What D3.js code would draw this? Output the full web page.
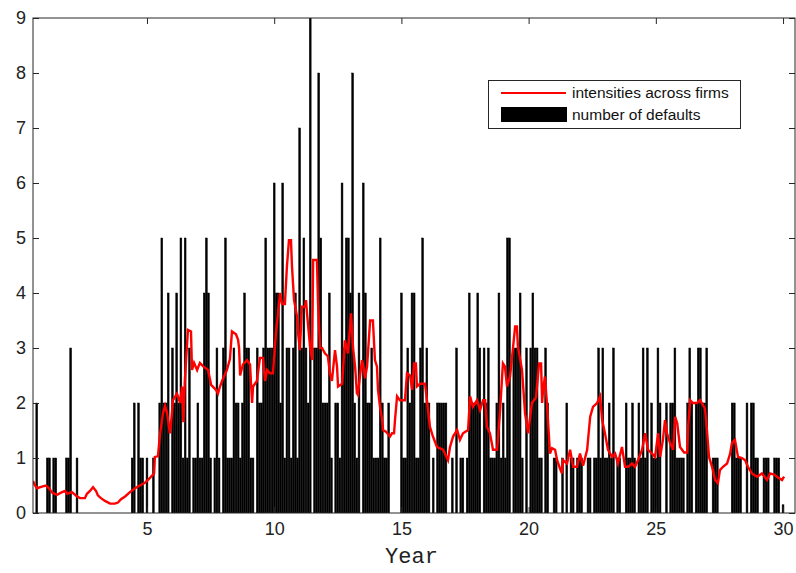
<!DOCTYPE html>
<html>
<head>
<meta charset="utf-8">
<script src="https://cdn.jsdelivr.net/npm/d3@7"></script>
<style>
  body { margin: 0; background: #fff; }
  svg { display: block; }
</style>
</head>
<body>
<div id="chart"></div>
<script>
const width = 796;
const height = 573;

// monthly default counts: [month index, number of defaults]
const defaults = [
  [8,2],[13,1],[14,1],[16,1],[17,1],[22,1],[23,1],[24,3],[27,1],
  [53,1],[54,2],[56,2],[57,1],[58,1],[60,1],[63,1],
  [66,2],[67,5],[68,2],[69,2],[70,4],[72,3],[73,2],[74,4],[75,2],[76,5],
  [77,1],[78,5],[79,1],[80,3],[82,1],[83,1],[84,2],[85,1],[86,1],[87,4],
  [88,5],[89,4],[90,1],[92,1],[93,3],[94,1],[96,3],[97,5],[98,1],[99,1],
  [100,1],[101,3],[102,2],[103,2],[104,1],[105,2],[106,4],[107,3],[108,3],[109,1],
  [110,1],[112,3],[113,2],[114,2],[115,3],[116,5],[117,3],[118,3],[119,3],[120,6],
  [121,4],[122,4],[123,2],[124,6],[125,1],[126,3],[127,3],[128,1],[129,3],[130,4],
  [131,1],[132,7],[133,3],[134,5],[135,3],[136,2],[137,9],[139,3],[140,3],[141,8],
  [142,5],[143,2],[144,2],[145,2],[146,4],[147,1],[149,2],[150,2],[151,1],[152,6],
  [153,3],[154,5],[155,5],[156,4],[157,8],[158,2],[159,1],[160,4],[162,6],[163,4],
  [164,2],[165,2],[166,3],[167,1],[168,1],[169,1],[170,5],[171,2],[172,1],[173,1],
  [174,2],[180,4],[181,1],[182,1],[183,3],[184,2],[185,4],[186,4],[187,1],[188,1],
  [189,3],[190,5],[191,2],[192,3],[193,2],[195,1],[197,2],[198,2],[199,2],[200,2],
  [201,2],[204,1],[206,3],[208,1],[209,1],[211,1],[212,4],[213,2],[214,2],[215,2],
  [216,4],[217,3],[219,3],[220,2],[221,3],[222,1],[223,1],[224,1],[225,2],[226,4],
  [227,1],[228,2],[229,1],[230,5],[231,5],[233,3],[234,3],[235,3],[236,4],[237,1],
  [239,3],[241,3],[242,4],[243,3],[244,3],[245,1],[246,1],[248,3],[249,2],[252,1],
  [253,1],[256,1],[258,2],[260,1],[261,1],[263,1],[264,1],[265,1],[268,1],[269,1],
  [271,1],[272,1],[273,3],[274,1],[275,3],[276,1],[277,1],[278,2],[279,1],[280,3],
  [282,1],[283,1],[286,2],[287,1],[288,1],[289,2],[290,1],[292,2],[293,1],[294,3],
  [295,1],[296,3],[298,2],[299,1],[300,1],[301,3],[302,2],[305,2],[307,2],[308,2],
  [309,3],[310,1],[311,1],[312,1],[313,1],[315,2],[316,3],[317,2],[319,2],[320,3],
  [321,3],[322,2],[323,2],[324,3],[327,1],[328,1],[329,1],[336,2],[337,2],[338,1],
  [339,1],[340,1],[343,2],[345,2],[346,2],[347,1],[348,1],[351,1],[352,1],[353,1],
  [356,1],[357,1],[358,1],[360,0.15]
];

// intensity across firms: [year, value]
const intensity = [
  [0.52,0.58],[0.60,0.50],[0.68,0.45],[0.87,0.48],[1.03,0.50],[1.15,0.45],[1.27,0.37],
  [1.46,0.33],[1.66,0.38],[1.78,0.40],[1.86,0.35],[2.05,0.38],[2.25,0.30],[2.37,0.27],
  [2.56,0.27],[2.64,0.35],[2.76,0.40],[2.88,0.47],[3.00,0.40],[3.07,0.32],[3.19,0.27],
  [3.35,0.22],[3.55,0.17],[3.74,0.17],[3.86,0.19],[3.98,0.25],[4.14,0.30],[4.33,0.38],
  [4.53,0.45],[4.72,0.50],[4.92,0.55],[5.04,0.60],[5.20,0.68],[5.28,0.72],[5.31,1.02],
  [5.43,1.03],[5.51,1.42],[5.63,1.82],[5.71,1.95],[5.79,1.82],[5.90,1.45],[5.94,1.60],
  [6.02,2.05],[6.18,2.17],[6.30,2.00],[6.38,2.30],[6.43,1.65],[6.49,2.42],[6.61,3.33],
  [6.73,3.30],[6.77,2.60],[6.85,2.73],[6.97,2.60],[7.08,2.73],[7.20,2.67],[7.40,2.60],
  [7.52,2.33],[7.71,2.24],[7.79,2.17],[7.87,2.30],[7.95,2.40],[8.14,2.60],[8.26,2.80],
  [8.34,3.30],[8.50,3.25],[8.58,3.15],[8.62,3.00],[8.66,2.50],[8.77,2.70],[8.93,2.78],
  [9.05,2.70],[9.13,2.00],[9.17,2.30],[9.32,2.40],[9.44,2.82],[9.56,2.82],[9.64,2.40],
  [9.72,2.60],[9.83,2.54],[9.95,2.54],[10.07,3.27],[10.23,4.00],[10.31,3.80],[10.42,3.80],
  [10.50,4.48],[10.58,4.96],[10.66,4.96],[10.70,4.48],[10.78,3.87],[10.90,3.57],[10.94,3.27],
  [11.01,2.96],[11.09,3.75],[11.21,3.75],[11.25,3.87],[11.29,3.63],[11.41,3.02],[11.49,2.78],
  [11.53,4.60],[11.68,4.60],[11.72,3.87],[11.80,3.00],[11.88,3.00],[12.00,2.90],[12.11,2.85],
  [12.19,2.54],[12.27,2.40],[12.39,2.96],[12.47,2.66],[12.51,2.30],[12.67,2.35],[12.78,3.14],
  [12.90,2.90],[13.02,3.63],[13.10,3.00],[13.18,2.66],[13.25,2.18],[13.29,2.15],[13.37,2.48],
  [13.45,2.78],[13.49,2.70],[13.57,2.45],[13.65,2.66],[13.77,3.50],[13.88,3.50],[13.96,2.78],
  [14.04,2.66],[14.08,2.24],[14.16,1.93],[14.24,1.70],[14.28,1.51],[14.39,1.48],[14.55,1.39],
  [14.63,1.45],[14.71,1.45],[14.75,1.70],[14.83,2.12],[14.94,2.05],[15.06,2.05],[15.14,2.05],
  [15.22,2.54],[15.34,2.50],[15.42,2.24],[15.50,2.72],[15.57,2.72],[15.61,2.30],[15.73,2.35],
  [15.93,2.35],[16.12,1.57],[16.24,1.39],[16.40,1.20],[16.64,1.15],[16.83,0.96],[16.91,1.20],
  [17.03,1.39],[17.19,1.51],[17.30,1.33],[17.42,1.45],[17.62,1.51],[17.70,2.12],[17.81,1.93],
  [17.97,2.05],[18.09,1.87],[18.21,2.05],[18.29,2.05],[18.36,1.57],[18.48,1.45],[18.60,1.15],
  [18.76,1.15],[18.88,1.87],[18.99,2.72],[19.07,2.66],[19.15,2.30],[19.27,2.48],[19.39,3.02],
  [19.47,3.39],[19.54,3.39],[19.58,3.02],[19.74,2.60],[19.86,1.81],[19.98,1.45],[20.13,2.00],
  [20.29,2.10],[20.41,2.72],[20.49,2.72],[20.53,2.00],[20.57,2.24],[20.64,2.48],[20.72,2.00],
  [20.84,1.08],[20.92,1.18],[21.04,1.15],[21.12,0.96],[21.24,0.80],[21.31,0.72],[21.35,0.96],
  [21.51,0.90],[21.63,1.15],[21.75,0.84],[21.90,0.84],[22.02,1.08],[22.14,0.86],[22.30,1.15],
  [22.42,1.75],[22.53,1.93],[22.69,2.00],[22.81,2.12],[22.89,1.69],[23.00,1.45],[23.12,1.15],
  [23.28,1.02],[23.40,1.08],[23.51,0.90],[23.67,1.20],[23.79,0.84],[23.91,0.84],[24.06,0.90],
  [24.18,0.84],[24.30,0.96],[24.46,1.15],[24.58,1.45],[24.69,1.15],[24.85,1.08],[24.97,1.02],
  [25.09,1.45],[25.17,1.02],[25.28,1.33],[25.36,1.69],[25.44,1.45],[25.56,1.27],[25.68,1.15],
  [25.76,1.75],[25.84,1.63],[25.95,1.20],[26.11,1.10],[26.23,1.10],[26.27,1.57],[26.35,2.05],
  [26.46,2.00],[26.62,2.00],[26.74,2.05],[26.93,1.90],[27.01,1.50],[27.09,1.02],[27.21,0.84],
  [27.33,0.60],[27.44,0.54],[27.52,0.78],[27.64,0.84],[27.80,0.90],[27.92,1.08],[27.99,1.27],
  [28.11,1.33],[28.23,1.02],[28.39,1.00],[28.51,0.96],[28.62,0.84],[28.78,0.72],[28.98,0.66],
  [29.17,0.72],[29.37,0.60],[29.49,0.72],[29.65,0.70],[29.76,0.66],[29.96,0.60],[30.04,0.66]
];

const xTicks = [5, 10, 15, 20, 25, 30];
const yTicks = [0, 1, 2, 3, 4, 5, 6, 7, 8, 9];
const legendLabels = ["intensities across firms", "number of defaults"];

const plot = { left: 33, right: 795, top: 18, bottom: 513 };

const x = d3.scaleLinear().domain([0.52, 30.47]).range([plot.left, plot.right]);
const y = d3.scaleLinear().domain([0, 9]).range([plot.bottom, plot.top]);

const svg = d3.select("#chart").append("svg")
  .attr("width", width)
  .attr("height", height);

svg.append("defs").append("clipPath").attr("id", "clip")
  .append("rect")
  .attr("x", plot.left).attr("y", plot.top)
  .attr("width", plot.right - plot.left)
  .attr("height", plot.bottom - plot.top);

// bars span the whole month; a thin black edge closes the seams between neighbours
const barW = x(0.85 / 12) - x(0);

svg.append("g")
  .attr("clip-path", "url(#clip)")
  .selectAll("rect")
  .data(defaults)
  .join("rect")
  .attr("x", d => x(d[0] / 12) - barW / 2)
  .attr("y", d => y(d[1]))
  .attr("width", barW)
  .attr("height", d => y(0) - y(d[1]))
  .attr("fill", "#000")
  .attr("stroke", "#000")
  .attr("stroke-width", 0.5);

const line = d3.line()
  .x(d => x(d[0]))
  .y(d => y(d[1]));

svg.append("path")
  .datum(intensity)
  .attr("clip-path", "url(#clip)")
  .attr("d", line)
  .attr("fill", "none")
  .attr("stroke", "#ff0000")
  .attr("stroke-width", 2.4)
  .attr("stroke-linejoin", "miter");

// axes, ticks pointing inward on all four sides
const axisColor = "#262626";

const axBottom = svg.append("g")
  .attr("transform", `translate(0,${plot.bottom})`)
  .call(d3.axisBottom(x).tickValues(xTicks).tickSizeInner(-6).tickSizeOuter(0).tickPadding(9));
const axTop = svg.append("g")
  .attr("transform", `translate(0,${plot.top})`)
  .call(d3.axisTop(x).tickValues(xTicks).tickSizeInner(-6).tickSizeOuter(0).tickFormat(""));
const axLeft = svg.append("g")
  .attr("transform", `translate(${plot.left},0)`)
  .call(d3.axisLeft(y).tickValues(yTicks).tickSizeInner(-6).tickSizeOuter(0).tickPadding(7));
const axRight = svg.append("g")
  .attr("transform", `translate(${plot.right},0)`)
  .call(d3.axisRight(y).tickValues(yTicks).tickSizeInner(-6).tickSizeOuter(0).tickFormat(""));

[axBottom, axTop, axLeft, axRight].forEach(g => {
  g.select(".domain").remove();
  g.selectAll("line").attr("stroke", axisColor);
  g.selectAll("text")
    .attr("fill", "#222")
    .style("font-family", "'Liberation Sans', Arial, sans-serif")
    .style("font-size", "18px");
});

svg.append("rect")
  .attr("x", plot.left).attr("y", plot.top)
  .attr("width", plot.right - plot.left)
  .attr("height", plot.bottom - plot.top)
  .attr("fill", "none")
  .attr("stroke", axisColor)
  .attr("stroke-width", 1);

svg.append("text")
  .attr("x", 411.5)
  .attr("y", 563)
  .attr("text-anchor", "middle")
  .style("font-family", "'Liberation Mono', 'DejaVu Sans Mono', monospace")
  .style("font-size", "22px")
  .attr("fill", "#222")
  .text("Year");

// legend
const legend = svg.append("g");
legend.append("rect")
  .attr("x", 488.5).attr("y", 80.5)
  .attr("width", 252).attr("height", 48)
  .attr("fill", "#fff")
  .attr("stroke", axisColor);
legend.append("line")
  .attr("x1", 501).attr("x2", 566)
  .attr("y1", 93).attr("y2", 93)
  .attr("stroke", "#ff0000")
  .attr("stroke-width", 2);
legend.append("rect")
  .attr("x", 501).attr("y", 107)
  .attr("width", 66).attr("height", 15)
  .attr("fill", "#000");
legend.selectAll("text.lab")
  .data(legendLabels)
  .join("text")
  .attr("class", "lab")
  .attr("x", 572)
  .attr("y", (d, i) => 98 + i * 22)
  .style("font-family", "'Liberation Sans', Arial, sans-serif")
  .style("font-size", "15.5px")
  .attr("fill", "#111")
  .text(d => d);
</script>
</body>
</html>
